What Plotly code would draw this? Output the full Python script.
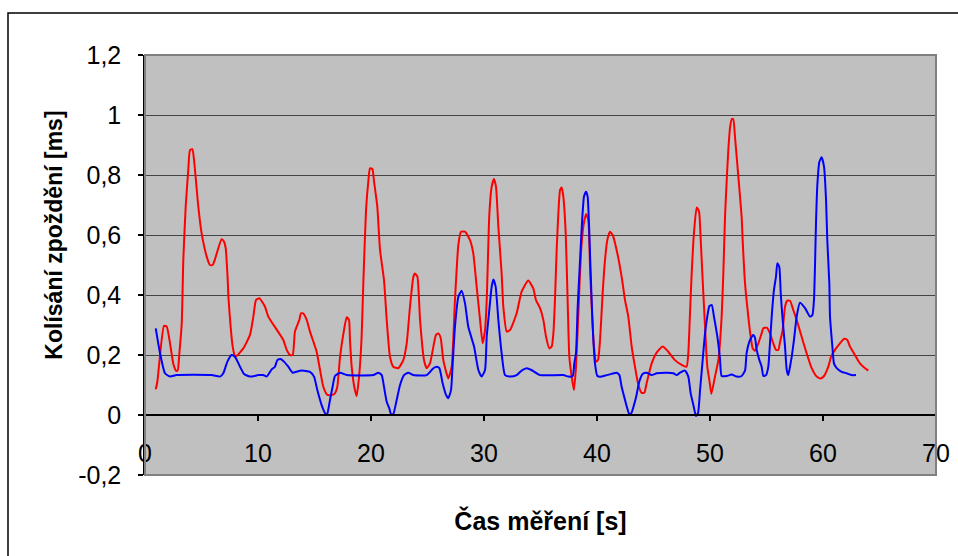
import plotly.graph_objects as go

# ---- data ----
red_x = [0.95, 1.09, 1.68, 1.92, 2.5, 2.74, 2.89, 3.04, 3.25, 3.39, 3.6, 3.83, 3.98, 4.19, 4.34, 4.72, 5.01, 5.46, 5.75, 5.99,
         6.19, 6.78, 6.99, 7.14, 7.32, 7.38, 7.58, 7.76, 7.96, 8.1, 8.7, 9.29, 9.59, 9.82, 10.12, 10.62, 10.91, 12.24, 12.54, 12.83,
         13.07, 13.27, 13.66, 13.8, 14.0, 14.31, 14.6, 15.19, 15.49, 15.78, 16.14, 16.6, 16.81, 17.02, 17.26, 17.61, 17.85, 18.05, 18.14, 18.29,
         18.52, 18.73, 18.97, 19.17, 19.32, 19.56, 19.76, 19.91, 20.12, 20.27, 20.56, 20.8, 21.15, 21.39, 21.68, 21.97, 22.42, 22.86, 23.16, 23.45,
         23.75, 23.89, 24.1, 24.34, 24.69, 24.93, 25.22, 25.52, 25.75, 25.96, 26.17, 26.4, 26.84, 27.14, 27.43, 27.73, 27.96, 28.32, 28.76, 29.05,
         29.35, 29.65, 29.88, 30.09, 30.24, 30.47, 30.68, 30.88, 31.06, 31.27, 31.56, 31.71, 32.01, 32.3, 32.89, 33.33, 33.92, 34.36, 34.6, 34.96,
         35.25, 35.49, 35.78, 35.99, 36.14, 36.28, 36.43, 36.58, 36.73, 36.87, 37.02, 37.23, 37.4, 37.55, 37.76, 37.96, 38.14, 38.35, 38.58, 38.79,
         39.03, 39.23, 39.38, 39.53, 39.73, 39.91, 40.09, 40.27, 40.5, 40.71, 40.91, 41.15, 41.39, 41.8, 42.18, 42.48, 42.77, 43.07, 43.36, 43.66,
         43.95, 44.19, 44.39, 44.84, 45.28, 45.81, 46.31, 46.9, 47.49, 47.93, 48.08, 48.23, 48.38, 48.58, 48.82, 49.03, 49.18, 49.35, 49.56, 49.76,
         49.94, 50.12, 50.44, 50.74, 51.03, 51.18, 51.33, 51.48, 51.62, 51.77, 51.92, 52.06, 52.21, 52.51, 52.8, 52.89, 53.1, 53.39, 53.6, 53.78,
         53.98, 54.28, 54.57, 54.72, 55.02, 55.31, 55.55, 55.84, 56.05, 56.19, 56.43, 56.64, 56.84, 57.08, 57.37, 57.67, 58.11, 58.55, 59.0, 59.44,
         59.79, 60.09, 60.47, 60.71, 61.06, 61.5, 61.89, 62.15, 62.39, 62.83, 63.27, 63.72, 64.01]
red_y = [0.086, 0.11, 0.297, 0.295, 0.172, 0.148, 0.148, 0.205, 0.305, 0.517, 0.694, 0.817, 0.883, 0.886, 0.85, 0.694, 0.606, 0.528, 0.5, 0.5,
         0.519, 0.586, 0.578, 0.556, 0.45, 0.394, 0.294, 0.228, 0.197, 0.197, 0.222, 0.267, 0.328, 0.383, 0.389, 0.361, 0.328, 0.25, 0.217, 0.2,
         0.2, 0.278, 0.317, 0.339, 0.339, 0.317, 0.278, 0.211, 0.15, 0.094, 0.067, 0.067, 0.072, 0.094, 0.194, 0.283, 0.326, 0.317, 0.25, 0.161,
         0.094, 0.063, 0.139, 0.261, 0.439, 0.683, 0.778, 0.822, 0.82, 0.778, 0.694, 0.55, 0.45, 0.317, 0.194, 0.161, 0.156, 0.183, 0.239, 0.361,
         0.461, 0.472, 0.462, 0.317, 0.183, 0.156, 0.172, 0.228, 0.267, 0.272, 0.256, 0.183, 0.122, 0.161, 0.383, 0.567, 0.611, 0.611, 0.583, 0.539,
         0.428, 0.317, 0.239, 0.283, 0.383, 0.667, 0.761, 0.787, 0.761, 0.628, 0.472, 0.361, 0.278, 0.283, 0.339, 0.411, 0.448, 0.422, 0.383, 0.356,
         0.317, 0.261, 0.222, 0.228, 0.272, 0.383, 0.55, 0.672, 0.75, 0.758, 0.728, 0.606, 0.383, 0.194, 0.128, 0.083, 0.161, 0.339, 0.539, 0.628,
         0.67, 0.65, 0.494, 0.361, 0.228, 0.178, 0.183, 0.25, 0.406, 0.517, 0.583, 0.611, 0.6, 0.539, 0.461, 0.383, 0.328, 0.228, 0.161, 0.1,
         0.074, 0.074, 0.106, 0.172, 0.208, 0.228, 0.211, 0.183, 0.167, 0.161, 0.206, 0.339, 0.472, 0.606, 0.692, 0.678, 0.583, 0.45, 0.294, 0.161,
         0.117, 0.07, 0.128, 0.183, 0.328, 0.472, 0.661, 0.783, 0.883, 0.956, 0.986, 0.986, 0.928, 0.794, 0.661, 0.583, 0.439, 0.328, 0.261, 0.222,
         0.214, 0.239, 0.272, 0.289, 0.291, 0.272, 0.244, 0.217, 0.217, 0.242, 0.283, 0.361, 0.381, 0.381, 0.35, 0.317, 0.261, 0.206, 0.156, 0.128,
         0.122, 0.13, 0.161, 0.194, 0.217, 0.239, 0.254, 0.25, 0.228, 0.2, 0.172, 0.156, 0.148]

blue_x = [0.95, 1.33, 1.77, 2.21, 2.8, 5.9, 6.64, 6.93, 7.29, 7.67, 7.96, 8.41, 8.76, 9.29, 10.03, 10.47, 10.77, 11.21, 11.5, 11.71,
          12.01, 12.3, 12.68, 13.07, 13.4, 13.86, 14.6, 14.96, 15.25, 15.63, 15.99, 16.12, 16.37, 16.6, 16.81, 17.26, 17.85, 20.2, 20.65, 20.95,
          21.15, 21.39, 21.62, 21.77, 21.97, 22.21, 22.57, 22.92, 23.3, 23.75, 24.93, 25.52, 25.81, 26.05, 26.34, 26.64, 26.84, 27.08, 27.23, 27.43,
          27.73, 28.02, 28.32, 28.61, 29.12, 29.5, 29.79, 30.09, 30.24, 30.47, 30.68, 30.83, 31.03, 31.27, 31.56, 31.86, 32.3, 32.89, 33.33, 33.78,
          34.2, 34.96, 37.02, 37.46, 37.85, 37.99, 38.14, 38.29, 38.5, 38.67, 38.85, 39.03, 39.17, 39.29, 39.44, 39.62, 39.82, 40.03, 40.41, 40.86,
          41.3, 41.74, 41.98, 42.18, 42.48, 42.68, 42.86, 43.04, 43.27, 43.5, 43.74, 44.04, 44.39, 44.84, 45.28, 46.17, 46.76, 47.05, 47.35, 47.79,
          48.08, 48.29, 48.53, 48.76, 48.94, 49.12, 49.35, 49.56, 49.76, 49.94, 50.15, 50.35, 50.65, 50.88, 51.03, 51.48, 51.92, 52.36, 52.8, 53.1,
          53.24, 53.54, 53.83, 53.98, 54.13, 54.37, 54.57, 54.72, 54.96, 55.16, 55.25, 55.46, 55.66, 55.84, 55.96, 56.13, 56.26, 56.43, 56.64, 56.79,
          56.93, 57.08, 57.23, 57.43, 57.67, 57.96, 58.41, 58.85, 59.06, 59.2, 59.29, 59.38, 59.5, 59.68, 59.88, 60.09, 60.27, 60.38, 60.56, 60.62,
          60.83, 60.97, 61.21, 61.65, 62.09, 62.54, 62.92]
blue_y = [0.289, 0.206, 0.139, 0.128, 0.133, 0.133, 0.128, 0.139, 0.178, 0.2, 0.194, 0.161, 0.137, 0.128, 0.133, 0.133, 0.128, 0.152, 0.161, 0.183,
          0.187, 0.178, 0.161, 0.141, 0.144, 0.148, 0.144, 0.128, 0.083, 0.033, 0.003, 0.003, 0.05, 0.094, 0.13, 0.141, 0.133, 0.133, 0.141, 0.133,
          0.094, 0.044, 0.022, 0.003, 0.003, 0.039, 0.1, 0.133, 0.141, 0.133, 0.133, 0.156, 0.161, 0.156, 0.106, 0.067, 0.056, 0.083, 0.172, 0.294,
          0.394, 0.414, 0.372, 0.294, 0.228, 0.15, 0.128, 0.15, 0.261, 0.35, 0.428, 0.452, 0.428, 0.317, 0.206, 0.133, 0.128, 0.133, 0.148, 0.156,
          0.15, 0.133, 0.133, 0.128, 0.13, 0.172, 0.206, 0.361, 0.517, 0.639, 0.728, 0.744, 0.728, 0.639, 0.472, 0.294, 0.172, 0.13, 0.128, 0.133,
          0.137, 0.141, 0.133, 0.094, 0.05, 0.022, 0.003, 0.006, 0.033, 0.067, 0.111, 0.137, 0.141, 0.133, 0.139, 0.141, 0.139, 0.133, 0.141, 0.148,
          0.128, 0.072, 0.033, -0.003, 0.006, 0.083, 0.183, 0.272, 0.328, 0.363, 0.367, 0.328, 0.261, 0.19, 0.13, 0.13, 0.135, 0.128, 0.13, 0.148,
          0.206, 0.25, 0.267, 0.258, 0.217, 0.183, 0.161, 0.13, 0.133, 0.161, 0.206, 0.328, 0.417, 0.461, 0.506, 0.494, 0.406, 0.317, 0.228, 0.15,
          0.133, 0.161, 0.194, 0.25, 0.328, 0.374, 0.356, 0.328, 0.333, 0.383, 0.494, 0.639, 0.767, 0.844, 0.859, 0.828, 0.717, 0.583, 0.439, 0.328,
          0.228, 0.172, 0.156, 0.144, 0.139, 0.133, 0.133]

x_tick_vals = [0, 10, 20, 30, 40, 50, 60, 70]
x_tick_labels = ["0", "10", "20", "30", "40", "50", "60", "70"]
y_tick_vals = [-0.2, 0, 0.2, 0.4, 0.6, 0.8, 1.0, 1.2]
y_tick_labels = ["-0,2", "0", "0,2", "0,4", "0,6", "0,8", "1", "1,2"]

x_title = "Čas měření [s]"
y_title = "Kolísání zpoždění [ms]"

FONT = "Liberation Sans, Arial, sans-serif"
TICK_FONT = dict(family=FONT, size=25, color="black")

fig = go.Figure()
fig.add_trace(go.Scatter(x=red_x, y=red_y, mode="lines",
                         line=dict(color="#FF0000", width=2, shape="spline", smoothing=0.5),
                         showlegend=False, hoverinfo="skip"))
fig.add_trace(go.Scatter(x=blue_x, y=blue_y, mode="lines",
                         line=dict(color="#0000FF", width=2, shape="spline", smoothing=0.5),
                         showlegend=False, hoverinfo="skip"))

fig.update_layout(
    width=958, height=556,
    margin=dict(l=145, r=22, t=55, b=81, autoexpand=False),
    paper_bgcolor="white",
    plot_bgcolor="rgba(0,0,0,0)",
    font=dict(family=FONT, size=23, color="black"),
    showlegend=False,
    xaxis=dict(
        range=[0, 70], tickmode="array", tickvals=x_tick_vals, ticktext=x_tick_labels,
        tickfont=TICK_FONT,
        showgrid=False, zeroline=False,
        showline=True, linecolor="#000000", linewidth=1.5,
        ticks="outside", ticklen=5, tickcolor="#000000", tickwidth=1.5,
        anchor="free", position=0.2 / 1.4,
        ticklabelstandoff=11,
        title=dict(text=x_title, font=dict(size=25, family=FONT, weight="bold"), standoff=46),
        automargin=False,
    ),
    yaxis=dict(
        range=[-0.2, 1.2], tickmode="array", tickvals=y_tick_vals, ticktext=y_tick_labels,
        tickfont=TICK_FONT,
        showgrid=True, gridcolor="#444444", gridwidth=1.4,
        zeroline=False,
        showline=True, linecolor="#000000", linewidth=1.5,
        ticks="outside", ticklen=5, tickcolor="#000000", tickwidth=1.5,
        ticklabelstandoff=12,
        automargin=False,
    ),
    annotations=[
        dict(text="<b>" + y_title + "</b>", xref="paper", yref="paper",
             x=-0.115, y=0.57, xanchor="center", yanchor="middle", textangle=-90,
             showarrow=False, font=dict(size=23, family=FONT, color="black")),
    ],
    shapes=[
        # plot area fill
        dict(type="rect", xref="x domain", yref="y domain", x0=0, x1=1, y0=0, y1=1,
             line=dict(width=0), fillcolor="#C0C0C0", layer="below"),
        # plot area border
        dict(type="rect", xref="x domain", yref="y domain", x0=0, x1=1, y0=0, y1=1,
             line=dict(color="#808080", width=2), fillcolor="rgba(0,0,0,0)", layer="above"),
        # outer chart frame
        dict(type="rect", xref="paper", yref="paper", x0=-0.1732, x1=1.08, y0=-0.3, y1=1.1,
             line=dict(color="#000000", width=1.5), fillcolor="rgba(0,0,0,0)", layer="below"),
    ],
)

fig.write_html("out.html")
